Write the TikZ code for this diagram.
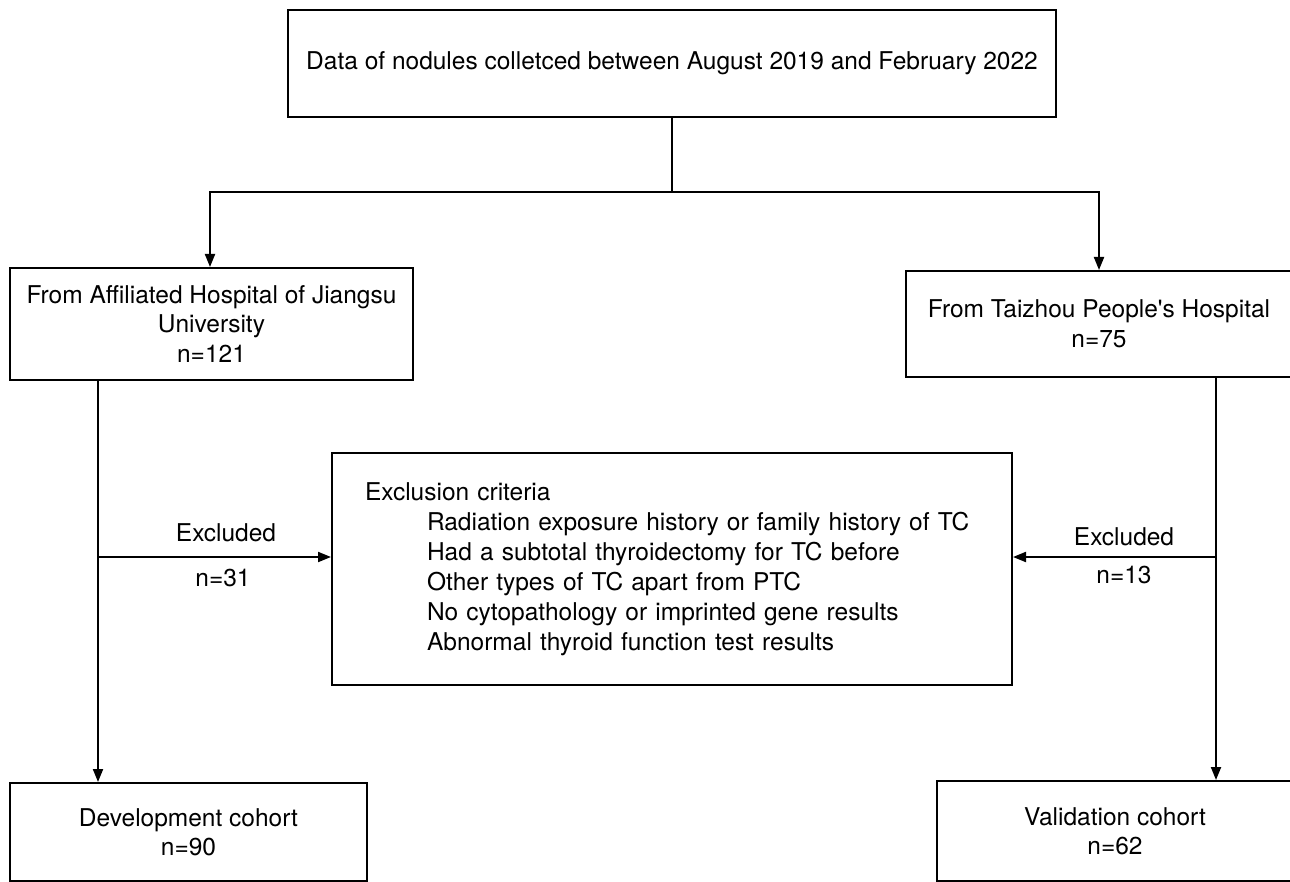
\documentclass[tikz,border=0pt]{standalone}
\usepackage{fontspec}
\setmainfont{TeX Gyre Heros}
\usetikzlibrary{arrows.meta}
\begin{document}
\begin{tikzpicture}[x=1pt,y=-1pt,
  box/.style={draw=black, line width=2pt, rectangle, inner sep=0pt, align=center,
    font=\fontsize{24.5}{29.5}\selectfont},
  lbl/.style={inner sep=0pt, anchor=base, font=\fontsize{24.5}{29.5}\selectfont},
  conn/.style={draw=black, line width=2pt},
  arr/.style={conn, -{Triangle[length=13pt,width=10pt]}}]
\useasboundingbox (0,0) rectangle (1290,882);
\clip (0,0) rectangle (1290,882);
\fill[white] (0,0) rectangle (1290,882);
% boxes
\node[box, minimum width=768pt, minimum height=107pt] (top) at (672,63.5)
  {Data of nodules colletced between August 2019 and February 2022};
\node[box, minimum width=403pt, minimum height=112pt] (left) at (211.5,324)
  {From Affiliated Hospital of Jiangsu\\University\\n=121};
\node[box, minimum width=386pt, minimum height=106pt] (right) at (1099,324)
  {From Taizhou People\textquotesingle s Hospital\\n=75};
\node[box, minimum width=680pt, minimum height=232pt, text width=614pt, inner xsep=33pt,
  align=left, font=\fontsize{24.5}{30}\selectfont] (excl) at (672,569)
  {Exclusion criteria\\
   \hspace*{62pt}Radiation exposure history or family history of TC\\
   \hspace*{62pt}Had a subtotal thyroidectomy for TC before\\
   \hspace*{62pt}Other types of TC apart from PTC\\
   \hspace*{62pt}No cytopathology or imprinted gene results\\
   \hspace*{62pt}Abnormal thyroid function test results};
\node[box, minimum width=357pt, minimum height=98pt] (dev) at (188.5,832)
  {Development cohort\\n=90};
\node[box, minimum width=356pt, minimum height=100pt] (val) at (1115,831)
  {Validation cohort\\n=62};
% junction coordinates
\coordinate (j) at (672,192);
\coordinate (jl) at (210,192);
\coordinate (jr) at (1099,192);
\coordinate (ld) at (98,557);
\coordinate (rd) at (1216,557);
% connectors
\draw[conn] (top.south) -- (j);
\draw[arr] (j) -- (jl) -- (jl |- left.north);
\draw[arr] (j) -- (jr) -- (jr |- right.north);
\draw[arr] (ld |- left.south) -- (ld |- dev.north);
\draw[arr] (rd |- right.south) -- (rd |- val.north);
\draw[arr] (ld) -- (excl.west |- ld);
\draw[arr] (rd) -- (excl.east |- rd);
% labels
\node[lbl] (exl) at (226,541) {Excluded};
\node[lbl] (nl) at (223,586) {n=31};
\node[lbl] (exr) at (1124,545) {Excluded};
\node[lbl] (nr) at (1124,583) {n=13};
\end{tikzpicture}
\end{document}
